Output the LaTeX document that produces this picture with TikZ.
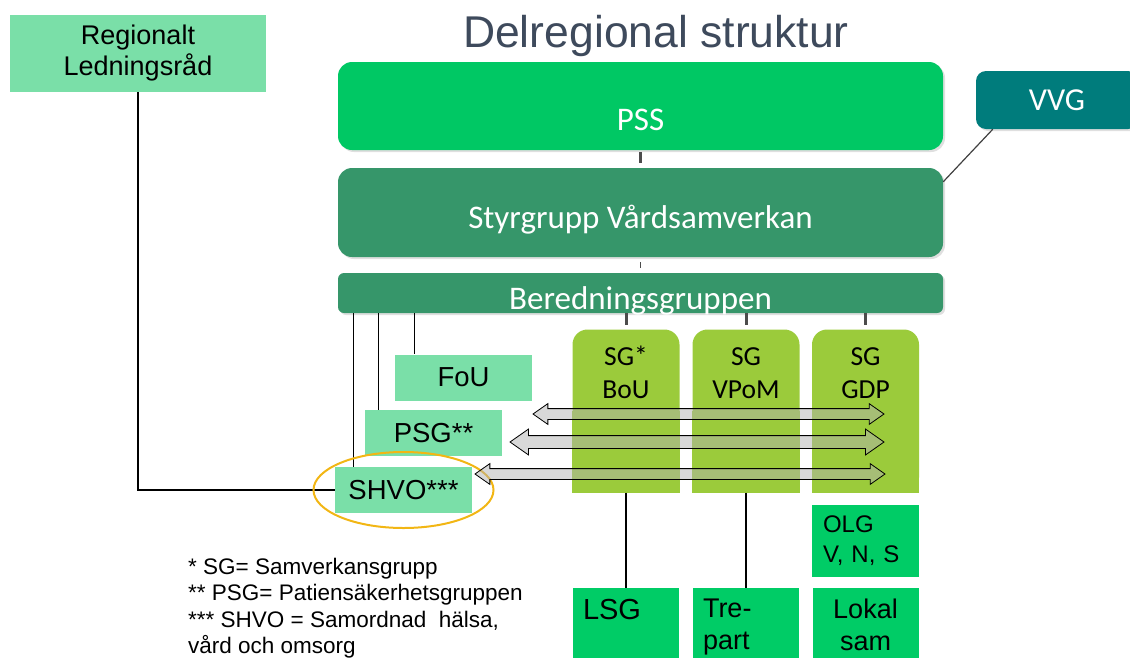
\documentclass[tikz,border=0pt]{standalone}
\usepackage{fontspec}
\setmainfont{Liberation Sans}
\newfontfamily\calibfont{Carlito}
\usetikzlibrary{shapes.arrows,calc,shadows,positioning}

\definecolor{mintGreen}{RGB}{122,223,168}
\definecolor{brightGreen}{RGB}{0,200,100}
\definecolor{boxGreen}{RGB}{0,204,102}
\definecolor{darkGreen}{RGB}{54,150,106}
\definecolor{tealVVG}{RGB}{0,124,124}
\definecolor{limeGreen}{RGB}{155,203,59}
\definecolor{titleGrey}{RGB}{62,74,92}
\definecolor{ringOrange}{RGB}{242,182,20}

\newcommand{\fsz}[2]{\fontsize{#1}{#2}\selectfont}

\tikzset{
  mintbox/.style={fill=mintGreen, inner sep=0pt, align=center, minimum width=137pt, minimum height=46pt, font=\fsz{27.5}{31}},
  govbox/.style={fill=darkGreen, rounded corners=14pt, minimum width=605pt, inner ysep=0pt, text=white,
    font=\calibfont\fsz{33}{40}, drop shadow={shadow xshift=2pt, shadow yshift=-2pt, opacity=0.25}},
  vvgbox/.style={fill=tealVVG, rounded corners=10pt, minimum width=162pt, minimum height=58pt, text=white,
    font=\calibfont\fsz{32}{38}, drop shadow={shadow xshift=2pt, shadow yshift=-2pt, opacity=0.25}},
  sgcol/.style={fill=limeGreen, rounded corners=15pt, minimum width=107pt, minimum height=163pt},
  sgtext/.style={align=center, inner sep=0pt, font=\calibfont\fsz{27.5}{33}},
  lowbox/.style={fill=boxGreen, anchor=north, minimum width=106pt, text width=86pt, inner xsep=10pt,
    inner ysep=11pt, text depth=70pt, align=left, font=\fsz{27}{32}},
  link/.style={draw=black, line width=1.2pt},
  tick/.style={draw=black!70, line width=3pt},
  twoway/.style={double arrow, draw=black, line width=0.8pt, fill=gray!60, fill opacity=0.5,
    inner xsep=0pt, double arrow tip angle=70},
  ring/.style={draw=ringOrange, line width=2pt}
}

% arrow between two named points: #1 left, #2 right, #3 half shaft, #4 head extend
\newcommand{\sgarrow}[4]{%
  \path let \p1=(#1), \p2=(#2) in
    node[twoway, inner ysep=#3, double arrow head extend=#4, minimum height=\x2-\x1]
    at ($(#1)!0.5!(#2)$) {};}

\begin{document}
\begin{tikzpicture}[x=1pt,y=-1pt]
\useasboundingbox (0,0) rectangle (1130,657);
\clip (0,0) rectangle (1130,657);

% title
\node[anchor=base, text=titleGrey, font=\fsz{44.5}{50}] (title) at (656,47) {Delregional struktur};

% regional level
\node[mintbox, minimum width=256pt, minimum height=77pt, font=\fsz{27}{31}] (reg) at (138,53.5) {Regionalt\\Ledningsråd};

% main stack
\node[govbox, fill=brightGreen, text height=68pt, text depth=20pt] (pss) at (640.5,106) {PSS};
\node[govbox, text height=60pt, text depth=29pt] (styr) at (640.5,212.5) {Styrgrupp Vårdsamverkan};
\node[govbox, rounded corners=6pt, text height=36pt, text depth=4pt] (bered) at (640.5,293) {Beredningsgruppen};
\node[vvgbox] (vvg) at (1057,100) {VVG};

\draw[tick, shorten <=2pt, shorten >=5pt] (pss.south) -- (styr.north);
\draw[tick, line width=1.5pt, shorten <=5pt, shorten >=5pt] (styr.south) -- (bered.north);
\draw[draw=black!75, line width=1.2pt] ([xshift=17pt]vvg.south west) -- ([yshift=-14pt]styr.north east);

% groups on the left
\node[mintbox] (fou) at (463.5,377.5) {FoU};
\node[mintbox] (psg) at (433.5,433) {PSG**};
\node[mintbox] (shvo) at (403.5,490) {SHVO***};

\draw[link] ([xshift=20pt]fou.north west |- bered.south) -- ([xshift=20pt]fou.north west);
\draw[link] ([xshift=14pt]psg.north west |- bered.south) -- ([xshift=14pt]psg.north west);
\draw[link] ([xshift=19pt]shvo.north west |- bered.south) -- ([xshift=19pt]shvo.north west);
\draw[link] (reg.south) |- (shvo.west);
\draw[ring] (shvo.center) ellipse [x radius=90pt, y radius=38pt];

% samverkansgrupper
\foreach \nm/\x/\txt in {bou/626/{SG*\\BoU}, vpom/746/{SG\\VPoM}, gdp/865.5/{SG\\GDP}}{
  \node[sgcol] (\nm) at (\x,411) {};
  \fill[limeGreen] (\nm.south west) rectangle (\nm.east);
  \node[sgtext] at ([yshift=-43.5pt]\nm.north) {\txt};
  \draw[tick, shorten >=4pt] (bered.south -| \nm.north) -- (\nm.north);
}

% two-way arrows
\coordinate (fouR) at (533,414);
\coordinate (gdpA) at (884,414);
\coordinate (psgR) at (510,442);
\coordinate (gdpB) at (884,442);
\coordinate (shvoR) at (475,474);
\coordinate (gdpC) at (885,474);
\sgarrow{fouR}{gdpA}{5pt}{5pt}
\sgarrow{psgR}{gdpB}{6pt}{6.5pt}
\sgarrow{shvoR}{gdpC}{5pt}{5pt}

% local level
\node[fill=boxGreen, minimum width=107pt, minimum height=72pt, text width=85pt, inner xsep=11pt,
  align=left, font=\fsz{24}{30}] (olg) at (865.5,541) {OLG\\V, N, S};
\node[lowbox, font=\fsz{29}{32}] (lsg) at (626,588) {LSG};
\node[lowbox] (trepart) at (746,588) {Tre-\\part};
\node[lowbox, align=center] (lokal) at (865.5,588) {Lokal\\sam};

\draw[link] (bou.south) -- (lsg.north);
\draw[link] (vpom.south) -- (trepart.north);

% footnotes
\node[anchor=north west, align=left, inner sep=0pt, font=\fsz{22.5}{26.3}] (notes) at (188,558)
  {* SG= Samverkansgrupp\\{}** PSG= Patiensäkerhetsgruppen\\{}*** SHVO = Samordnad\ \ hälsa,\\vård och omsorg};
\end{tikzpicture}
\end{document}
